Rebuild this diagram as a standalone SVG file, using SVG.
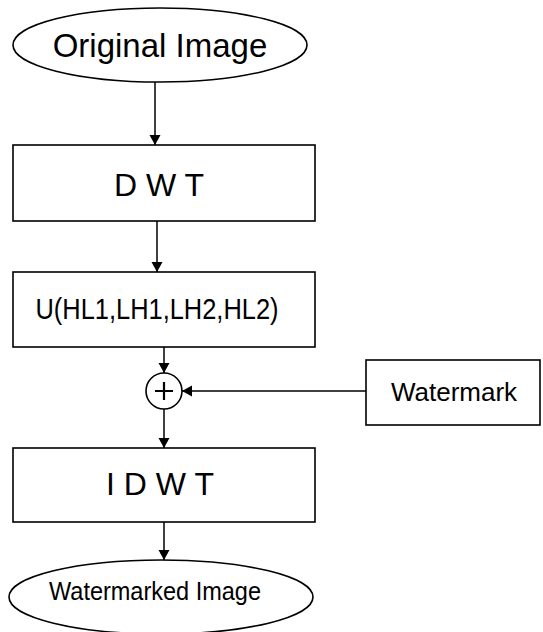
<svg xmlns="http://www.w3.org/2000/svg" width="543" height="632" viewBox="0 0 543 632">
<defs>
<marker id="ah" viewBox="0 0 10 14" refX="10" refY="7" markerWidth="10" markerHeight="14" markerUnits="userSpaceOnUse" orient="auto">
<path d="M0,1.5 L10,7 L0,12.5 Z" fill="#000"/>
</marker>
<style>
.sh{fill:#fff;stroke:#000;stroke-width:1.6}
.t{font-family:"Liberation Sans",Arial,sans-serif;fill:#000;text-anchor:middle}
.c{fill:none;stroke:#000;stroke-width:1.5}
</style>
</defs>
<rect width="543" height="632" fill="#fff"/>
<g id="orig">
<ellipse class="sh" cx="160" cy="45" rx="147" ry="37"/>
<text class="t" x="160" y="57" font-size="33">Original Image</text>
</g>
<g id="dwt">
<rect class="sh" x="13" y="145" width="302" height="76"/>
<text class="t" x="159" y="196" font-size="32">D W T</text>
</g>
<g id="ubox">
<rect class="sh" x="13" y="272" width="302" height="75"/>
<text class="t" x="157" y="319" font-size="30" textLength="243" lengthAdjust="spacingAndGlyphs">U(HL1,LH1,LH2,HL2)</text>
</g>
<g id="sum">
<circle class="sh" cx="164" cy="391" r="18"/>
<path d="M164,382 V400 M155,391 H173" stroke="#000" stroke-width="2.2"/>
</g>
<g id="wm">
<rect class="sh" x="366" y="360" width="174" height="65"/>
<text class="t" x="454" y="401" font-size="26">Watermark</text>
</g>
<g id="idwt">
<rect class="sh" x="13" y="448" width="302" height="74"/>
<text class="t" x="160" y="495" font-size="32">I D W T</text>
</g>
<g id="out">
<ellipse class="sh" cx="161" cy="597" rx="152" ry="37"/>
<text class="t" x="155" y="600" font-size="26" textLength="212" lengthAdjust="spacingAndGlyphs">Watermarked Image</text>
</g>
<g id="connectors">
<line class="c" x1="155" y1="82" x2="155" y2="145" marker-end="url(#ah)"/>
<line class="c" x1="157" y1="221" x2="157" y2="272" marker-end="url(#ah)"/>
<line class="c" x1="164" y1="347" x2="164" y2="373" marker-end="url(#ah)"/>
<line class="c" x1="366" y1="391" x2="182" y2="391" marker-end="url(#ah)"/>
<line class="c" x1="164" y1="409" x2="164" y2="448" marker-end="url(#ah)"/>
<line class="c" x1="164" y1="522" x2="164" y2="560" marker-end="url(#ah)"/>
</g>
</svg>
